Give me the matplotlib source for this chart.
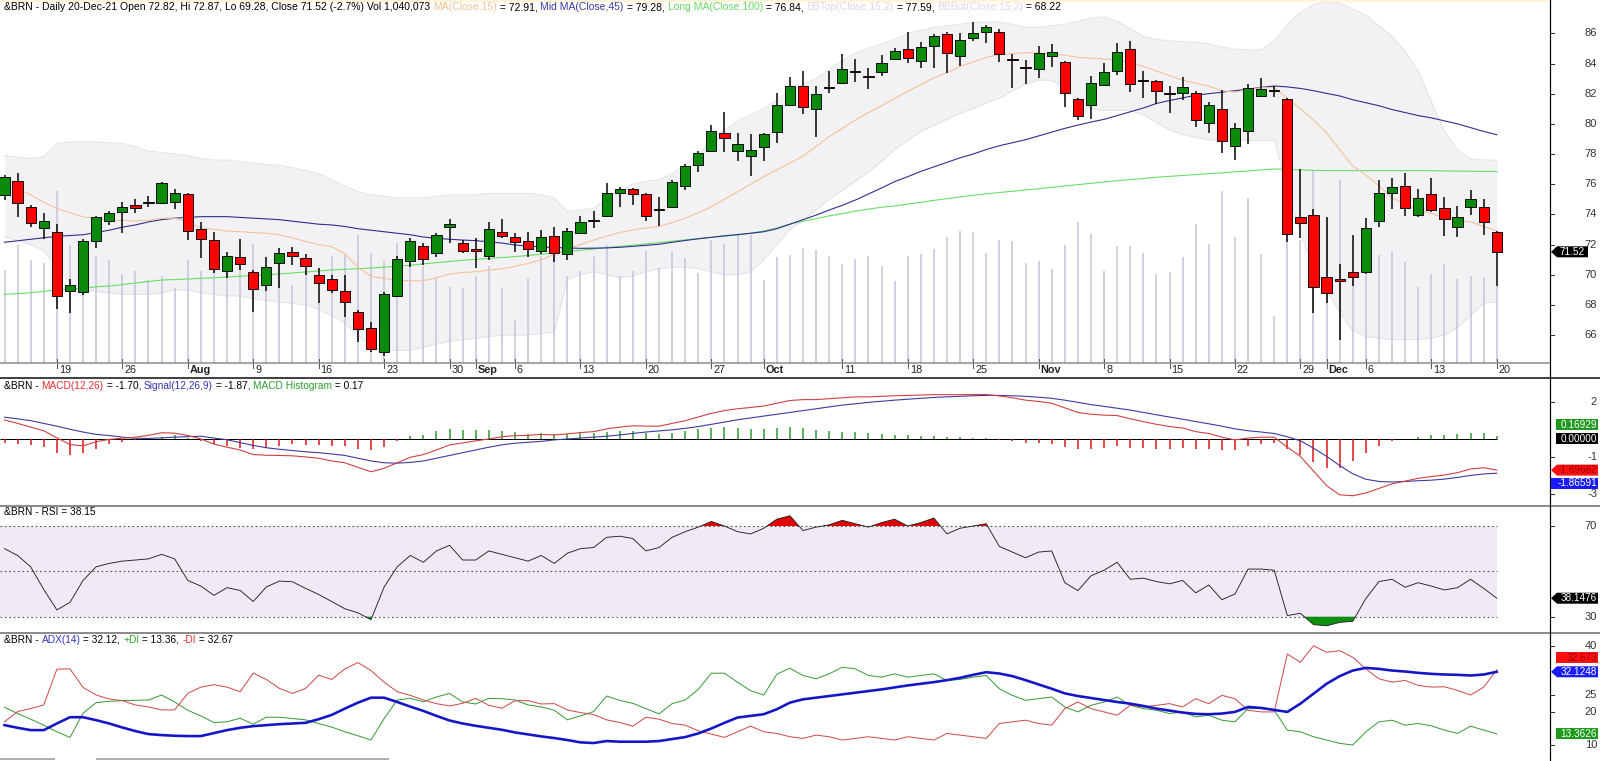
import numpy as np
import pandas as pd
import matplotlib
matplotlib.use("Agg")
import matplotlib.pyplot as plt
from matplotlib.lines import Line2D
from matplotlib.patches import Polygon
from matplotlib.transforms import Affine2D, blended_transform_factory

W, H = 1600, 761
PLOT_R = 1550            # x pixel of the price axis line
X0, STEP = 4.5, 13.09    # first bar centre / bar spacing, pixels
PX = 0.72                # one pixel in points

SANS = ["Liberation Sans", "DejaVu Sans"]
NARROW = ["Liberation Sans Narrow", "Liberation Sans", "DejaVu Sans"]

dates = pd.bdate_range("2021-07-13", "2021-12-20")

OPEN = [75.29, 76.24, 74.47, 73.12, 72.81, 68.95, 68.88, 72.24, 73.56, 74.14,
        74.62, 74.76, 74.73, 74.80, 75.35, 73.01, 72.30, 70.27, 71.20, 70.21,
        69.32, 70.80, 71.51, 71.09, 69.98, 69.70, 68.92, 67.56, 66.45, 64.90,
        68.59, 70.93, 71.91, 71.46, 73.19, 72.13, 71.69, 71.24, 72.83, 72.53,
        72.26, 71.60, 72.59, 71.35, 72.79, 73.55, 73.90, 75.44, 75.66, 75.33,
        74.32, 74.51, 75.88, 77.27, 78.22, 79.42, 78.22, 77.87, 78.45, 79.44,
        81.25, 82.53, 80.99, 82.38, 82.69, 83.53, 83.17, 83.46, 84.30, 84.96,
        84.19, 85.18, 85.93, 84.52, 85.67, 86.07, 86.11, 84.30, 83.75, 83.61,
        84.50, 84.12, 81.63, 81.25, 82.58, 83.50, 84.96, 82.91, 82.84, 82.02,
        82.02, 82.07, 80.08, 80.99, 78.56, 79.53, 81.87, 82.27, 81.65, 73.81,
        73.96, 69.83, 69.70, 70.16, 70.16, 73.56, 75.40, 75.90, 73.96, 75.35,
        74.40, 73.19, 74.47, 74.47, 72.82]
HIGH = [76.61, 76.72, 74.62, 74.07, 73.36, 69.70, 72.35, 73.90, 74.25, 74.82,
        75.02, 75.24, 76.17, 75.66, 75.40, 73.52, 72.83, 71.53, 72.37, 70.32,
        71.20, 71.75, 71.86, 71.38, 70.43, 69.98, 69.98, 67.67, 66.89, 68.88,
        71.24, 72.41, 72.08, 72.75, 73.67, 72.30, 72.41, 73.52, 73.70, 72.79,
        72.81, 72.97, 73.19, 73.08, 73.90, 74.25, 76.10, 75.84, 75.77, 75.40,
        75.13, 76.28, 77.34, 78.22, 79.93, 80.76, 79.42, 79.31, 79.42, 82.02,
        83.13, 83.50, 82.51, 83.50, 84.61, 84.28, 83.68, 84.56, 85.05, 86.07,
        85.45, 85.93, 86.11, 86.00, 86.73, 86.55, 86.27, 84.61, 84.23, 85.16,
        85.29, 84.19, 81.69, 83.17, 84.01, 85.34, 85.49, 83.50, 82.91, 82.51,
        83.08, 82.20, 81.43, 82.24, 80.08, 82.62, 83.02, 82.53, 81.69, 76.99,
        74.34, 73.81, 70.71, 72.64, 73.78, 76.28, 76.39, 76.72, 75.68, 76.39,
        75.13, 74.58, 75.62, 75.00, 72.87]
LOW = [74.96, 73.85, 73.19, 72.35, 67.71, 67.44, 68.66, 71.75, 73.30, 72.75,
       74.07, 74.47, 74.69, 74.36, 72.30, 71.09, 70.10, 69.81, 70.32, 67.56,
       68.95, 69.10, 70.65, 69.98, 68.11, 68.81, 67.22, 65.57, 64.90, 64.62,
       68.55, 70.54, 70.65, 71.20, 72.08, 71.42, 70.47, 70.98, 72.41, 71.53,
       71.16, 71.38, 70.87, 70.98, 72.75, 73.08, 73.81, 74.51, 74.62, 73.59,
       73.25, 74.47, 75.62, 76.83, 78.22, 78.16, 77.54, 76.55, 77.56, 78.75,
       81.25, 80.63, 79.11, 82.02, 82.62, 82.80, 82.29, 83.19, 84.23, 84.01,
       83.72, 83.68, 83.39, 83.86, 85.49, 85.34, 84.12, 82.36, 82.62, 83.06,
       83.79, 81.14, 80.26, 80.32, 82.51, 83.24, 82.13, 81.74, 81.29, 80.70,
       81.58, 79.81, 79.37, 78.09, 77.61, 78.64, 81.80, 81.76, 72.15, 72.41,
       67.44, 68.15, 65.68, 69.26, 70.05, 73.19, 74.36, 73.89, 73.85, 74.18,
       72.59, 72.52, 73.96, 72.64, 69.28]
CLOSE = [76.50, 74.73, 73.45, 73.56, 68.62, 69.32, 72.24, 73.81, 74.07, 74.47,
         74.45, 74.80, 76.06, 75.40, 72.90, 72.39, 70.36, 71.24, 70.69, 69.04,
         70.54, 71.42, 71.24, 70.58, 69.43, 68.99, 68.22, 66.38, 65.06, 68.73,
         71.05, 72.26, 71.02, 72.64, 73.36, 71.60, 71.60, 73.01, 72.59, 72.19,
         71.69, 72.53, 71.42, 72.90, 73.52, 73.61, 75.40, 75.66, 75.33, 73.90,
         74.36, 76.17, 77.21, 78.05, 79.53, 79.09, 78.64, 78.27, 79.33, 81.25,
         82.53, 81.10, 81.96, 82.42, 83.61, 83.44, 83.13, 84.01, 84.85, 84.39,
         85.07, 85.85, 84.67, 85.56, 86.00, 86.44, 84.61, 84.23, 83.70, 84.72,
         84.79, 82.02, 80.54, 82.73, 83.46, 84.79, 82.64, 82.84, 82.20, 81.98,
         82.42, 80.26, 81.25, 78.89, 79.70, 82.36, 82.29, 82.20, 72.68, 73.41,
         69.17, 68.81, 69.61, 69.83, 73.08, 75.44, 75.79, 74.40, 75.11, 74.29,
         73.67, 73.85, 75.00, 73.52, 71.52]
VOLUME = [1256, 1593, 1391, 1350, 2322, 1593, 1661, 1445, 1391, 1202,
          1242, 1121, 1175, 1013, 1391, 1242, 1310, 1215, 1310, 1607,
          1310, 1350, 1053, 1215, 851, 1445, 1458, 1728, 1485, 1377,
          1620, 1391, 1310, 1148, 1026, 1013, 1175, 1310, 1013, 581,
          1148, 1445, 1418, 1175, 1242, 1445, 1593, 1175, 1242, 1512,
          1283, 1499, 1418, 1215, 1661, 1607, 1728, 1728, 1121, 1431,
          1458, 1553, 1526, 1445, 1337, 1404, 1445, 1310, 1107, 1445,
          1472, 1539, 1701, 1782, 1769, 1485, 1661, 1647, 1350, 1377,
          1269, 1593, 1904, 1742, 1242, 1580, 1580, 1485, 1202, 1229,
          1431, 1877, 1607, 2322, 1701, 2228, 1472, 635, 2025, 1661,
          2592, 1958, 2471, 1215, 1188, 1458, 1499, 1364, 1026, 1202,
          1337, 1134, 1175, 1148, 1040]   # thousands
VOL_TOP = 4900   # volume at the top of the price pane

MA15 = [76.0, 75.7, 75.3, 74.8, 74.4, 74.1, 73.85, 73.7, 73.63, 73.6,
        73.56, 73.6, 73.74, 73.75, 73.5, 73.1, 73.0, 72.9, 72.85, 72.8,
        72.75, 72.65, 72.45, 72.2, 72.0, 71.85, 71.4, 70.5, 69.9, 69.75,
        69.65, 69.6, 69.6, 69.8, 70.05, 70.15, 70.2, 70.3, 70.4, 70.55,
        70.75, 71.0, 71.35, 71.75, 72.0, 72.3, 72.55, 72.8, 72.97, 73.1,
        73.2, 73.45, 73.75, 74.1, 74.5, 75.0, 75.5, 76.0, 76.5, 76.95,
        77.4, 77.85, 78.5, 79.15, 79.7, 80.25, 80.75, 81.2, 81.69, 82.15,
        82.6, 83.05, 83.4, 83.8, 84.1, 84.4, 84.6, 84.65, 84.72, 84.7,
        84.65, 84.55, 84.41, 84.35, 84.3, 84.2, 84.1, 83.8, 83.5, 83.2,
        82.9, 82.7, 82.5, 82.2, 82.1, 82.25, 82.4, 82.4, 81.7, 81.0,
        80.26, 79.4, 78.3, 77.2, 76.6, 75.9, 75.1, 74.7, 74.3, 74.05,
        73.8, 73.6, 73.5, 73.2, 72.91]
MA45 = [72.15, 72.25, 72.35, 72.45, 72.55, 72.6, 72.65, 72.8, 72.95, 73.15,
        73.3, 73.5, 73.65, 73.75, 73.8, 73.85, 73.85, 73.85, 73.8, 73.75,
        73.7, 73.65, 73.55, 73.45, 73.35, 73.3, 73.2, 73.05, 72.95, 72.85,
        72.75, 72.65, 72.5, 72.42, 72.35, 72.3, 72.26, 72.18, 72.1, 71.97,
        71.9, 71.85, 71.8, 71.78, 71.75, 71.76, 71.78, 71.82, 71.88, 71.95,
        72.02, 72.15, 72.27, 72.38, 72.48, 72.58, 72.66, 72.75, 72.85, 73.05,
        73.35, 73.65, 73.95, 74.29, 74.6, 74.95, 75.35, 75.75, 76.17, 76.5,
        76.85, 77.15, 77.45, 77.75, 78.0, 78.3, 78.55, 78.75, 78.95, 79.2,
        79.45, 79.7, 79.92, 80.12, 80.3, 80.55, 80.8, 81.05, 81.35, 81.55,
        81.72, 81.9, 82.0, 82.1, 82.2, 82.3, 82.42, 82.51, 82.45, 82.35,
        82.2, 82.02, 81.85, 81.6, 81.4, 81.2, 80.95, 80.75, 80.55, 80.4,
        80.2, 80.0, 79.75, 79.5, 79.28]
MA100 = [68.7, 68.75, 68.8, 68.9, 69.0, 69.05, 69.1, 69.2, 69.25, 69.35,
         69.45, 69.55, 69.65, 69.68, 69.72, 69.76, 69.8, 69.85, 69.9, 69.95,
         70.0, 70.05, 70.12, 70.18, 70.25, 70.32, 70.36, 70.4, 70.45, 70.5,
         70.56, 70.63, 70.72, 70.8, 70.88, 70.96, 71.02, 71.08, 71.14, 71.2,
         71.28, 71.36, 71.45, 71.54, 71.62, 71.7, 71.8, 71.88, 71.96, 72.04,
         72.13, 72.22, 72.31, 72.4, 72.48, 72.56, 72.64, 72.75, 72.9, 73.1,
         73.35, 73.55, 73.72, 73.9, 74.05, 74.22, 74.35, 74.47, 74.56, 74.68,
         74.8, 74.93, 75.04, 75.16, 75.26, 75.36, 75.45, 75.53, 75.62, 75.7,
         75.8, 75.88, 75.97, 76.06, 76.15, 76.23, 76.3, 76.38, 76.46, 76.52,
         76.58, 76.64, 76.7, 76.75, 76.82, 76.88, 76.95, 77.01, 76.98, 76.95,
         76.92, 76.9, 76.9, 76.9, 76.9, 76.9, 76.9, 76.9, 76.9, 76.9,
         76.88, 76.87, 76.86, 76.85, 76.84]
BB_TOP = [77.9, 77.8, 77.7, 77.8, 78.7, 78.8, 78.8, 78.8, 78.75, 78.7,
          78.5, 78.2, 78.1, 78.0, 77.9, 77.7, 77.6, 77.6, 77.5, 77.4,
          77.3, 77.25, 77.1, 76.9, 76.7, 76.3, 75.9, 75.5, 75.3, 75.2,
          75.1, 75.1, 75.1, 75.2, 75.3, 75.3, 75.3, 75.4, 75.4, 75.4,
          75.4, 75.3, 75.1, 74.2, 74.3, 74.4, 75.0, 75.6, 76.0, 76.2,
          76.3, 76.7, 77.3, 78.0, 78.8, 79.6, 80.2, 80.6, 81.0, 81.6,
          82.2, 82.6, 83.0, 83.6, 84.2, 84.7, 85.0, 85.3, 85.6, 86.0,
          86.2, 86.4, 86.5, 86.6, 86.7, 86.75, 86.75, 86.6, 86.4, 86.4,
          86.5, 86.6, 86.8, 87.0, 87.1, 86.8, 86.3, 85.8, 85.6, 85.5,
          85.45, 85.4, 85.3, 85.1, 84.95, 84.9, 84.9, 85.5, 86.6, 87.4,
          87.9, 88.1, 88.0, 87.6, 87.2, 86.5, 85.8, 84.8, 83.5, 81.5,
          79.5, 78.3, 77.7, 77.6, 77.59]
BB_BOT = [72.5, 72.3, 72.0, 71.6, 70.5, 69.5, 69.0, 68.9, 68.8, 68.7,
          68.7, 68.7, 68.8, 69.0, 69.0, 68.8, 68.7, 68.6, 68.6, 68.4,
          68.3, 68.2, 68.1, 68.0, 67.7, 67.3, 66.8, 66.0, 65.2, 65.0,
          65.0, 65.0, 65.2, 65.4, 65.6, 65.7, 65.8, 65.9, 66.0, 66.0,
          66.0, 66.1, 66.2, 69.7, 70.0, 70.2, 70.0, 69.8, 69.9, 70.2,
          70.4, 70.5, 70.5, 70.4, 70.2, 70.0, 70.0, 70.2, 71.0, 72.0,
          73.0, 73.6, 74.3, 75.0, 75.6, 76.2, 76.8, 77.5, 78.3, 78.9,
          79.5, 79.9, 80.3, 80.7, 81.0, 81.4, 81.7, 82.2, 82.6, 82.9,
          82.9, 82.4, 81.6, 81.0, 80.9, 80.9, 80.9, 80.6, 80.1, 79.6,
          79.3, 79.1, 78.95, 78.9, 78.9, 78.9, 78.9, 78.9, 75.8, 72.8,
          70.5, 69.0, 67.5, 66.3, 65.9, 65.8, 65.7, 65.7, 65.7, 65.8,
          66.0, 66.5, 67.3, 68.1, 68.22]

MACD = [1.04, 0.85, 0.65, 0.45, 0.06, -0.3, -0.38, -0.15, -0.02, 0.04,
        0.1, 0.2, 0.34, 0.32, 0.19, 0.0, -0.28, -0.45, -0.6, -0.85,
        -0.89, -0.9, -0.92, -0.98, -1.05, -1.2, -1.3, -1.55, -1.79, -1.6,
        -1.3, -1.0, -0.85, -0.6, -0.32, -0.22, -0.1, 0.0, 0.12, 0.18,
        0.2, 0.25, 0.22, 0.28, 0.35, 0.4, 0.55, 0.65, 0.72, 0.7,
        0.7, 0.85, 1.0, 1.2, 1.4, 1.55, 1.65, 1.72, 1.8, 1.95,
        2.1, 2.15, 2.15, 2.2, 2.25, 2.3, 2.3, 2.33, 2.36, 2.38,
        2.4, 2.42, 2.42, 2.42, 2.43, 2.43, 2.35, 2.25, 2.12, 2.05,
        1.95, 1.7, 1.45, 1.35, 1.3, 1.28, 1.1, 0.95, 0.8, 0.68,
        0.6, 0.4, 0.3, 0.1, -0.05, 0.05, 0.1, 0.1, -0.45, -0.95,
        -1.75, -2.55, -3.05, -3.1, -2.95, -2.7, -2.45, -2.3, -2.15, -2.05,
        -1.97, -1.84, -1.64, -1.57, -1.70]
SIGNAL = [1.19, 1.1, 1.0, 0.85, 0.7, 0.53, 0.38, 0.25, 0.19, 0.1,
          0.04, 0.03, 0.06, 0.1, 0.13, 0.15, 0.05, -0.04, -0.2, -0.35,
          -0.48, -0.56, -0.63, -0.7, -0.75, -0.82, -0.9, -1.05, -1.2, -1.3,
          -1.32, -1.28, -1.2, -1.05, -0.9, -0.75, -0.6, -0.45, -0.32, -0.23,
          -0.18, -0.13, -0.05, 0.0, 0.05, 0.1, 0.15, 0.22, 0.3, 0.38,
          0.44, 0.5, 0.58, 0.68, 0.8, 0.92, 1.05, 1.15, 1.25, 1.35,
          1.45, 1.55, 1.65, 1.75, 1.85, 1.92, 2.0, 2.06, 2.12, 2.17,
          2.22, 2.27, 2.3, 2.33, 2.36, 2.38, 2.38, 2.36, 2.33, 2.28,
          2.22, 2.12, 2.0, 1.88, 1.78, 1.68, 1.58, 1.45, 1.32, 1.2,
          1.08, 0.95, 0.83, 0.7, 0.55, 0.45, 0.38, 0.3, 0.12, -0.1,
          -0.5, -0.95, -1.45, -1.9, -2.2, -2.32, -2.35, -2.32, -2.28, -2.25,
          -2.19, -2.1, -1.99, -1.91, -1.87]
HIST = [-0.2, -0.25, -0.34, -0.43, -0.75, -0.88, -0.75, -0.53, -0.28, -0.15,
        -0.06, 0.02, 0.13, 0.19, 0.03, -0.09, -0.25, -0.38, -0.47, -0.53,
        -0.51, -0.38, -0.25, -0.34, -0.34, -0.38, -0.41, -0.53, -0.62, -0.43,
        -0.09, 0.15, 0.24, 0.43, 0.57, 0.51, 0.47, 0.47, 0.45, 0.38,
        0.28, 0.3, 0.27, 0.28, 0.3, 0.3, 0.4, 0.43, 0.42, 0.32,
        0.26, 0.35, 0.42, 0.52, 0.6, 0.63, 0.6, 0.57, 0.55, 0.6,
        0.65, 0.6, 0.5, 0.45, 0.4, 0.38, 0.3, 0.27, 0.24, 0.21,
        0.18, 0.15, 0.12, 0.09, 0.07, 0.05, -0.03, -0.11, -0.21, -0.23,
        -0.27, -0.42, -0.55, -0.53, -0.48, -0.4, -0.48, -0.5, -0.52, -0.52,
        -0.48, -0.55, -0.53, -0.6, -0.6, -0.4, -0.28, -0.2, -0.57, -0.85,
        -1.25, -1.6, -1.6, -1.2, -0.75, -0.38, -0.1, 0.02, 0.13, 0.2,
        0.2, 0.25, 0.33, 0.3, 0.17]

RSI = [60, 57, 52, 42, 33, 36.3, 46, 52, 53.5, 54.5,
       55, 55.5, 57.5, 55.5, 46, 43.5, 39.4, 42.8, 41.6, 36.7,
       43.1, 45.7, 45.4, 42.5, 39.8, 36.7, 33.5, 31.7, 28.7, 43.1,
       52, 57, 54, 59, 61.5, 55, 55, 59, 57.5, 56,
       54.5, 57, 53.5, 58, 60, 60.5, 65, 65.5, 64.5, 59,
       60.5, 65, 67.5, 69.5, 72, 70, 67.5, 66.5, 69, 73,
       74.5, 68, 69.5, 70.5, 72.5, 71, 69.5, 71.5, 73, 70,
       71.5, 73.5, 66.5, 69, 70, 71, 61, 58.5, 56, 58.5,
       59, 45, 41.5, 48, 50.5, 54, 46.5, 47, 45.5, 44.5,
       46, 40.5, 44, 37.5, 40, 51, 51, 50.5, 30.5, 31.5,
       26.5, 26, 27.5, 28, 38, 45.5, 46.5, 43, 45, 43.5,
       41.8, 42.8, 46.5, 42.5, 38.15]

ADX = [16.0, 15.2, 14.5, 14.5, 16.5, 18.4, 18.4, 17.5, 16.5, 15.3,
       14.2, 13.3, 13.0, 12.8, 12.7, 12.7, 13.6, 14.5, 15.2, 15.7,
       16.0, 16.3, 16.5, 16.7, 17.8, 19.1, 21.0, 22.8, 24.3, 24.3,
       23.0, 21.6, 20.3, 18.8, 17.4, 16.5, 15.8, 15.2, 14.6, 13.8,
       13.2, 12.6, 12.1, 11.5, 10.8, 10.6, 11.2, 11.0, 11.0, 11.0,
       11.2, 11.8, 12.4, 13.5, 15.0, 16.7, 18.3, 18.8, 19.3, 20.8,
       22.8, 23.8, 24.3, 24.8, 25.3, 25.8, 26.3, 26.8, 27.4, 28.0,
       28.5, 29.0, 29.6, 30.3, 31.2, 32.0, 31.6, 30.8, 29.6, 28.3,
       27.0, 25.6, 24.8, 24.2, 23.6, 23.0, 22.5, 21.8, 21.0, 20.4,
       19.8, 19.4, 19.3, 19.5, 20.0, 21.5, 21.2, 20.6, 20.0, 22.5,
       25.5, 28.5, 30.8, 32.5, 33.3, 33.0, 32.5, 32.2, 31.8, 31.5,
       31.3, 31.2, 31.0, 31.3, 32.12]
PLUS_DI = [21.4, 19.5, 17.8, 16.0, 14.0, 12.3, 19.6, 22.8, 23.2, 23.4,
           23.5, 23.6, 25.1, 23.0, 20.5, 18.8, 16.8, 17.0, 18.1, 16.3,
           18.4, 18.4, 18.0, 17.6, 16.5, 15.4, 14.0, 12.8, 11.5, 18.0,
           23.6, 24.1, 23.1, 24.5, 25.6, 23.0, 22.4, 24.1, 24.0, 23.6,
           22.1, 21.5, 20.5, 17.6, 18.8, 20.1, 24.8, 23.5, 22.6, 21.0,
           19.4, 22.5, 23.6, 26.8, 31.7, 31.7, 29.0, 26.4, 25.1, 31.4,
           33.2, 31.0, 30.0, 31.5, 33.5, 33.0, 31.0, 30.5, 31.5, 30.5,
           31.0, 31.5, 29.5, 29.8, 30.5, 31.0, 27.0, 25.0, 23.5, 24.0,
           24.5, 21.5, 20.0, 22.0, 23.0, 24.5, 22.0, 21.0, 20.5, 19.5,
           20.0, 18.5, 19.0, 17.5, 17.0, 21.0, 21.0, 20.5, 14.5, 14.0,
           12.5, 11.5, 10.5, 10.0, 14.0, 17.0, 17.5, 16.0, 16.5, 15.8,
           14.5, 13.5, 15.7, 14.5, 13.36]
MINUS_DI = [17.0, 20.1, 21.0, 22.1, 32.9, 33.0, 27.4, 25.1, 23.9, 23.4,
            22.1, 21.5, 20.6, 20.6, 25.6, 27.5, 28.2, 27.5, 26.1, 31.7,
            29.8, 27.1, 25.6, 27.1, 31.1, 29.8, 33.0, 34.9, 32.5, 29.0,
            26.1, 25.0, 23.6, 22.5, 21.8, 22.6, 24.1, 22.0, 21.1, 23.4,
            23.4, 22.4, 22.5, 20.6, 19.8, 19.2, 17.6, 16.8, 15.7, 18.4,
            17.8, 16.5, 16.0, 14.3, 13.3, 12.3, 14.0, 15.7, 14.0, 13.5,
            12.5, 12.0, 13.0, 12.5, 11.5, 12.0, 12.5, 12.0, 11.5, 12.5,
            12.0, 11.5, 13.5, 13.0, 12.5, 12.0, 16.5, 17.0, 17.5, 16.5,
            16.0, 21.0, 23.0, 21.0, 20.0, 19.0, 22.0, 21.5, 22.0, 22.5,
            21.5, 24.0, 22.5, 25.0, 24.0, 20.5, 20.0, 20.0, 37.5, 35.0,
            40.0, 38.0, 38.5, 36.5, 33.0, 30.0, 29.0, 29.5, 28.0, 27.5,
            27.6, 26.5, 25.1, 27.5, 32.67]

TICK_DAYS = ["2021-07-19", "2021-07-26", "2021-08-02", "2021-08-09", "2021-08-16",
             "2021-08-23", "2021-08-30", "2021-09-01", "2021-09-06", "2021-09-13",
             "2021-09-20", "2021-09-27", "2021-10-01", "2021-10-11", "2021-10-18",
             "2021-10-25", "2021-11-01", "2021-11-08", "2021-11-15", "2021-11-22",
             "2021-11-29", "2021-12-01", "2021-12-06", "2021-12-13", "2021-12-20"]
TICK_TEXT = ["19", "26", "Aug", "9", "16", "23", "30", "Sep", "6", "13", "20", "27",
             "Oct", "11", "18", "25", "Nov", "8", "15", "22", "29", "Dec", "6", "13", "20"]

series = [OPEN, HIGH, LOW, CLOSE, VOLUME, MA15, MA45, MA100, BB_TOP, BB_BOT,
          MACD, SIGNAL, HIST, RSI, ADX, PLUS_DI, MINUS_DI]
for s in series:
    assert len(s) == len(dates), len(s)

O, Hh, L, C = (np.array(a) for a in (OPEN, HIGH, LOW, CLOSE))
x = np.arange(len(dates))
XLIM = (-X0 / STEP, (PLOT_R - X0) / STEP)
last = x[-1]

GREEN, RED = "#0b8a0b", "#ff0000"

fig = plt.figure(figsize=(W / 100, H / 100), dpi=100)
fig.patch.set_facecolor("white")


def pane(top, bottom, ylim):
    ax = fig.add_axes([0, 1 - bottom / H, PLOT_R / W, (bottom - top) / H])
    ax.set_xlim(*XLIM)
    ax.set_ylim(*ylim)
    ax.axis("off")
    return ax


def fy(y_px):
    return 1 - y_px / H


def hline_px(y, x0, x1, color, lw):
    fig.add_artist(Line2D([x0 / W, x1 / W], [fy(y), fy(y)], transform=fig.transFigure,
                          color=color, lw=lw * PX))


def axis_labels(ax, values, fmt="{:g}"):
    tr = blended_transform_factory(fig.transFigure, ax.transData)
    for v in values:
        ax.plot([PLOT_R / W, (PLOT_R + 4) / W], [v, v], transform=tr, color="#333333",
                lw=PX, clip_on=False)
        ax.text(1597 / W, v, fmt.format(v), transform=tr, ha="right", va="center",
                fontsize=8, color="#333333", family=SANS, clip_on=False)


def tag(ax, v, s, fc, tc, dy=0, arrow=False, x_left=1556, x_right=1598, centre=False):
    y = ax.transData.transform((0, v))[1] - dy
    h = 5.5
    if arrow:
        pts = [(PLOT_R + 1, y), (PLOT_R + 7, y + h), (x_right, y + h), (x_right, y - h), (PLOT_R + 7, y - h)]
    else:
        pts = [(x_left, y + h), (x_right, y + h), (x_right, y - h), (x_left, y - h)]
    fig.add_artist(Polygon([(px / W, py / H) for px, py in pts], closed=True,
                           transform=fig.transFigure, fc=fc, ec="none", zorder=5))
    if centre:
        fig.text((PLOT_R + 7 + x_right) / 2 / W, y / H, s, ha="center", va="center",
                 fontsize=7.2, color=tc, family=SANS, zorder=6)
    else:
        fig.text((x_right - 1) / W, y / H, s, ha="right", va="center",
                 fontsize=7.2, color=tc, family=SANS, zorder=6)


def rainbow(ax, x_px, y_px, parts, size, family):
    t = ax.text(x_px / W, fy(y_px), parts[0][0], color=parts[0][1], fontsize=size,
                family=family, transform=fig.transFigure, va="center", ha="left", clip_on=False)
    for s, c in parts[1:]:
        t = ax.annotate(s, xy=(1, 0), xycoords=t, va="bottom", ha="left", color=c,
                        fontsize=size, family=family, annotation_clip=False)


# ---------------- price pane ----------------
ax = pane(0, 363, (64.15, 88.21))
ax.fill_between(x, BB_BOT, BB_TOP, color="#f2f2f4", lw=0, zorder=1)
ax.plot(x, BB_TOP, color="#e2e2e8", lw=PX, zorder=1.1)
ax.plot(x, BB_BOT, color="#e2e2e8", lw=PX, zorder=1.1)

vol_tr = blended_transform_factory(ax.transData, Affine2D().scale(1, 1 / VOL_TOP) + ax.transAxes)
ax.vlines(x, 0, VOLUME, transform=vol_tr, color="#c6c6dc", lw=1.6 * PX, zorder=2)

ax.plot(x, MA100, color="#66dd66", lw=1.1 * PX, zorder=3)
ax.plot(x, MA45, color="#2e2e8c", lw=1.1 * PX, zorder=3)
ax.plot(x, MA15, color="#f3c29a", lw=1.1 * PX, zorder=3)

up = C >= O
ax.vlines(x, L, Hh, color="black", lw=1.5 * PX, zorder=4)
ax.bar(x, np.maximum(np.abs(C - O), 0.04), bottom=np.minimum(O, C), width=0.78,
       color=np.where(up, GREEN, RED), edgecolor="black", linewidth=0.9 * PX, zorder=5)

# date axis
hline_px(363, 0, PLOT_R, "#8a8a8a", 1.5)
dtr = blended_transform_factory(ax.transData, fig.transFigure)
for d, s in zip(TICK_DAYS, TICK_TEXT):
    i = dates.get_loc(pd.Timestamp(d))
    ax.plot([i, i], [fy(359), fy(368)], transform=dtr, color="#555555", lw=PX, clip_on=False)
    ax.text(i + 0.15, fy(369.5), s, transform=dtr, ha="left", va="center", fontsize=7.8,
            color="#222222", family=NARROW, weight="bold" if s.isalpha() else "normal",
            clip_on=False)

axis_labels(ax, range(66, 87, 2))
tag(ax, CLOSE[-1], f"{CLOSE[-1]:.2f}", "black", "white", arrow=True, x_right=1588, centre=True)

pct = (CLOSE[-1] / CLOSE[-2] - 1) * 100
rainbow(ax, 4, 7, [
    (f"&BRN - Daily 20-Dec-21 Open {OPEN[-1]:.2f}, Hi {HIGH[-1]:.2f}, Lo {LOW[-1]:.2f}, "
     f"Close {CLOSE[-1]:.2f} ({pct:.1f}%) Vol 1,040,073 ", "black"),
    ("MA(Close,15)", "#f3c29a"), (f" = {MA15[-1]:.2f}, ", "black"),
    ("Mid MA(Close,45)", "#3a3aa8"), (f" = {MA45[-1]:.2f}, ", "black"),
    ("Long MA(Close,100)", "#66d866"), (f" = {MA100[-1]:.2f}, ", "black"),
    ("BBTop(Close,15,2)", "#d8d8e0"), (f" = {BB_TOP[-1]:.2f}, ", "black"),
    ("BBBot(Close,15,2)", "#d8d8e0"), (f" = {BB_BOT[-1]:.2f}", "black"),
], 7.45, SANS)

# ---------------- MACD pane ----------------
am = pane(378, 506, (-3.66, 3.33))
am.hlines(0, XLIM[0], last, color="black", lw=PX, zorder=2)
am.vlines(x, 0, HIST, colors=np.where(np.array(HIST) >= 0, "#2a9a2a", "#e01010"),
          lw=1.5 * PX, zorder=3)
am.plot(x, SIGNAL, color="#3a3aa0", lw=1.1 * PX, zorder=4)
am.plot(x, MACD, color="#d04040", lw=1.1 * PX, zorder=4)
axis_labels(am, [2, -1, -3])
tag(am, HIST[-1], "0.16929", "#1f9a1f", "white", dy=-11)
tag(am, 0, "0.00000", "black", "white")
tag(am, MACD[-1], "-1.69662", "#ff1010", "#9a0000", arrow=True)
tag(am, SIGNAL[-1], "-1.86591", "#1a1aff", "white", dy=10, x_left=1551)
rainbow(am, 4, 386, [("&BRN - ", "black"), ("MACD(12,26)", "#e03030"),
                     (f" = {MACD[-1]:.2f}, ", "black"), ("Signal(12,26,9)", "#3535b0"),
                     (f" = {SIGNAL[-1]:.2f}, ", "black"), ("MACD Histogram", "#2e9e2e"),
                     (f" = {HIST[-1]:.2f}", "black")], 7.3, NARROW)

# ---------------- RSI pane ----------------
ar = pane(506, 633, (22.81, 78.82))
ar.fill_between([XLIM[0], last], 30, 70, color="#f1e9f4", lw=0, zorder=1)
ar.hlines([30, 50, 70], XLIM[0], last, colors="#555555", linestyles=(0, (1.5, 2.5)),
          lw=1.1 * PX, zorder=2)
rsi = np.array(RSI)
ar.fill_between(x, rsi, 70, where=rsi > 70, interpolate=True, color="#e00000", lw=0, zorder=3)
ar.fill_between(x, rsi, 30, where=rsi < 30, interpolate=True, color="#109010", lw=0, zorder=3)
ar.plot(x, rsi, color="#222222", lw=0.9 * PX, zorder=4)
axis_labels(ar, [70, 30])
tag(ar, RSI[-1], "38.1476", "black", "white", arrow=True)
rainbow(ar, 4, 512, [(f"&BRN - RSI = {RSI[-1]:.2f}", "black")], 7.3, NARROW)

# ---------------- ADX pane ----------------
aa = pane(633, 761, (5.17, 43.84))
aa.plot(x, PLUS_DI, color="#3a9a3a", lw=1.0 * PX, zorder=3)
aa.plot(x, MINUS_DI, color="#d04a4a", lw=1.0 * PX, zorder=3)
aa.plot(x, ADX, color="#1515c8", lw=2.6 * PX, zorder=4)
axis_labels(aa, [40, 25, 20, 10])
tag(aa, MINUS_DI[-1], "32.673", "#ff1010", "#9a0000", dy=-12)
tag(aa, ADX[-1], "32.1248", "#1a1aff", "white", arrow=True)
tag(aa, PLUS_DI[-1], "13.3626", "#1f9a1f", "white")
rainbow(aa, 4, 640, [("&BRN - ", "black"), ("ADX(14)", "#3535c0"),
                     (f" = {ADX[-1]:.2f}, ", "black"), ("+DI", "#2ea02e"),
                     (f" = {PLUS_DI[-1]:.2f}, ", "black"), ("-DI", "#e03030"),
                     (f" = {MINUS_DI[-1]:.2f}", "black")], 7.3, NARROW)

# frame lines
hline_px(1, 0, PLOT_R, "#fff4d8", 2)
hline_px(378, 0, W, "#444444", 2)
hline_px(506, 0, W, "#666666", 1.5)
hline_px(633, 0, W, "#666666", 1.5)
hline_px(759, 0, 54, "#b0b0b0", 2)
hline_px(759, 97, 388, "#b0b0b0", 2)
fig.add_artist(Line2D([PLOT_R / W] * 2, [0, 1], transform=fig.transFigure, color="black", lw=1.2 * PX))

fig.savefig("out.png", dpi=100, facecolor="white")
